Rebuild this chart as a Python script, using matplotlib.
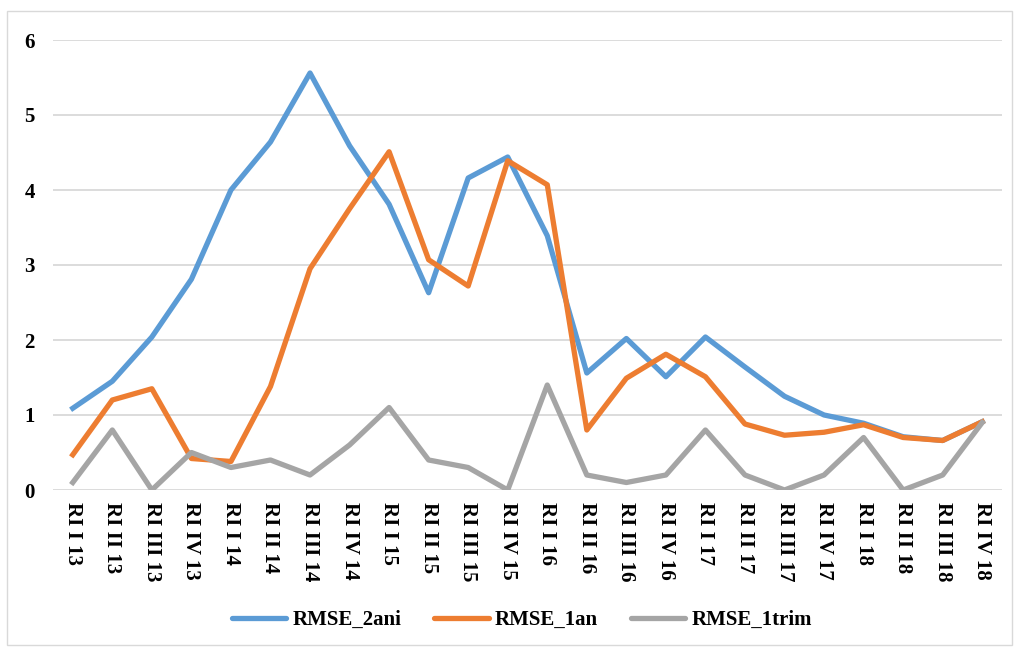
import matplotlib.pyplot as plt
import numpy as np
from matplotlib.patches import Rectangle

# categorii (trimestre)
categorii = ["RI I 13", "RI II 13", "RI III 13", "RI IV 13",
             "RI I 14", "RI II 14", "RI III 14", "RI IV 14",
             "RI I 15", "RI II 15", "RI III 15", "RI IV 15",
             "RI I 16", "RI II 16", "RI III 16", "RI IV 16",
             "RI I 17", "RI II 17", "RI III 17", "RI IV 17",
             "RI I 18", "RI II 18", "RI III 18", "RI IV 18"]

rmse_2ani = [1.09, 1.45, 2.04, 2.81, 4.0, 4.64, 5.56, 4.59, 3.81, 2.63, 4.16, 4.44,
             3.39, 1.56, 2.02, 1.51, 2.04, 1.64, 1.25, 1.0, 0.89, 0.71, 0.66, 0.91]
rmse_1an = [0.47, 1.2, 1.35, 0.42, 0.38, 1.38, 2.95, 3.75, 4.51, 3.07, 2.72, 4.39,
            4.07, 0.8, 1.49, 1.81, 1.51, 0.88, 0.73, 0.77, 0.87, 0.70, 0.66, 0.91]
rmse_1trim = [0.1, 0.8, 0.0, 0.5, 0.3, 0.4, 0.2, 0.6, 1.1, 0.4, 0.3, 0.0,
              1.4, 0.2, 0.1, 0.2, 0.8, 0.2, 0.0, 0.2, 0.7, 0.0, 0.2, 0.9]

plt.rcParams['font.family'] = ['Liberation Serif', 'DejaVu Serif']
plt.rcParams['font.weight'] = 'bold'

fig = plt.figure(figsize=(10.19, 6.48), dpi=100)
# chenarul exterior
fig.patches.append(Rectangle((7 / 1019, 3 / 648), 1005 / 1019, 634 / 648,
                             transform=fig.transFigure, fill=False,
                             edgecolor="#D9D9D9", linewidth=1))

ax = fig.add_axes([53 / 1019, 1 - 490 / 648, 949 / 1019, 450 / 648])
x = np.arange(len(categorii))
ax.plot(x, rmse_2ani, color="#5B9BD5", lw=3.8, label="RMSE_2ani", solid_joinstyle="round")
ax.plot(x, rmse_1an, color="#ED7D31", lw=3.8, label="RMSE_1an", solid_joinstyle="round")
ax.plot(x, rmse_1trim, color="#A5A5A5", lw=3.8, label="RMSE_1trim", solid_joinstyle="round")

ax.set_xlim(-0.5, len(categorii) - 0.5)
ax.set_ylim(0, 6)
ax.set_yticks(range(7))
ax.grid(axis="y", color="#D9D9D9", lw=1.3)
ax.set_axisbelow(True)
for s in ax.spines.values():
    s.set_visible(False)
ax.set_xticks(x)
ax.set_xticklabels(categorii, rotation=270, fontsize=15, fontweight="bold")
ax.tick_params(axis="both", length=0)
ax.tick_params(axis="x", pad=9)
ax.tick_params(axis="y", pad=13, labelsize=15)

leg = fig.legend(loc="center", bbox_to_anchor=(522 / 1019, 1 - 620 / 648), ncol=3,
                 frameon=False, fontsize=15, handlelength=2.6, columnspacing=1.6,
                 handletextpad=0.3)
for h in leg.legend_handles:
    h.set_solid_capstyle("round")

fig.savefig("out.png", dpi=100)
